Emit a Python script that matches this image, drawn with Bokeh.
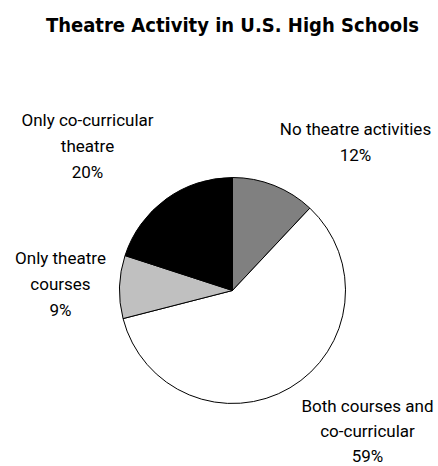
import math
from bokeh.plotting import figure
from bokeh.models import ColumnDataSource
from bokeh.core.properties import value
from bokeh.embed import file_html
from bokeh.resources import INLINE

title = "Theatre Activity in U.S. High Schools"
categories = ["No theatre activities", "Both courses and co-curricular",
              "Only theatre courses", "Only co-curricular theatre"]
percent = [12, 59, 9, 20]
colors = ["#808080", "#ffffff", "#c0c0c0", "#000000"]
label_lines = [["No theatre activities", "12%"],
               ["Both courses and", "co-curricular", "59%"],
               ["Only theatre", "courses", "9%"],
               ["Only co-curricular", "theatre", "20%"]]

W, H = 438, 466
TFONT = "DejaVu Sans Condensed"
FONT = "Roboto"

def X(sx):
    return sx

def Y(sy):
    return H - sy

p = figure(width=W, height=H, x_range=(0, W), y_range=(0, H),
           output_backend="svg", toolbar_location=None, min_border=0)
p.axis.visible = False
p.grid.visible = False
p.outline_line_color = None

cx, cy, r = X(232), Y(290), 113
total = sum(percent)
starts, ends = [], []
cum = 0
for v in percent:
    a0 = math.pi / 2 - 2 * math.pi * (cum + v) / total
    a1 = math.pi / 2 - 2 * math.pi * cum / total
    starts.append(a0)
    ends.append(a1)
    cum += v

src = ColumnDataSource(dict(start=starts, end=ends, color=colors,
                            x=[cx] * 4, y=[cy] * 4))
p.wedge(x="x", y="y", radius=r, start_angle="start", end_angle="end",
        fill_color="color", line_color="black", line_width=1, source=src)

# title
p.text(x=[X(232)], y=[Y(24)], text=[title], text_font=value(TFONT),
       text_font_style="bold", text_font_size="20px", text_align="center",
       text_baseline="middle", text_color="black")

# labels: (center x, first line y, line spacing) in screen px
label_pos = [(355, 128, 26), (367, 405, 25), (60, 257, 26), (87, 119, 26)]
lx, ly, lt = [], [], []
for (sx, sy, dy), lines in zip(label_pos, label_lines):
    for i, t in enumerate(lines):
        lx.append(X(sx))
        ly.append(Y(sy + i * dy))
        lt.append(t)
p.text(x=lx, y=ly, text=lt, text_font=value(FONT), text_font_size="17px",
       text_align="center", text_baseline="middle", text_color="black")

open("out.html", "w").write(file_html(p, INLINE))
